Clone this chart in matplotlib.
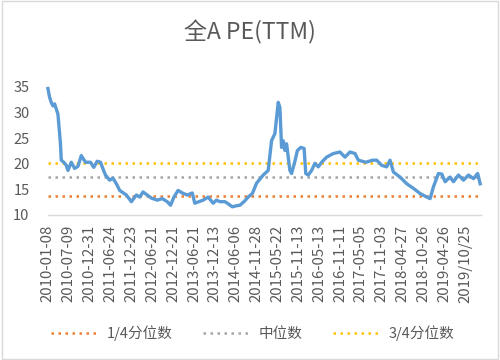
import matplotlib
matplotlib.use("Agg")
import matplotlib.pyplot as plt
from matplotlib.lines import Line2D
from matplotlib.patches import Rectangle

plt.rcParams['font.family'] = ['Noto Sans CJK SC', 'DejaVu Sans']

# Weekly data (point index counted from 2010-01-08)
weeks = [0, 2, 4, 6, 8, 12, 15, 16, 19, 22, 24, 28, 32, 36, 40, 45, 51, 55, 59, 63,
         66, 69, 74, 78, 83, 86, 94, 100, 106, 110, 114, 119, 124, 131, 137, 143, 147,
         151, 156, 161, 167, 173, 176, 181, 186, 192, 198, 202, 206, 212, 215, 221,
         226, 230, 235, 240, 245, 250, 254, 258, 264, 268, 272, 276, 278, 280, 282,
         284, 286, 290, 292, 296, 299, 303, 307, 309, 312, 316, 320, 324, 328, 334,
         342, 350, 356, 362, 368, 372, 381, 389, 394, 400, 406, 410, 414, 422, 430,
         438, 446, 454, 458, 462, 468, 472, 476, 482, 486, 492, 498, 504, 510, 515, 518]
pe = [34.7, 33.0, 32.0, 31.3, 31.7, 29.7, 24.0, 20.7, 20.3, 19.7, 18.7, 20.3, 19.1,
      19.5, 21.6, 20.3, 20.3, 19.3, 20.5, 20.3, 19.0, 17.8, 16.8, 17.2, 15.8, 14.8,
      13.9, 12.6, 13.9, 13.5, 14.5, 13.9, 13.3, 12.9, 13.2, 12.6, 11.9, 13.5, 14.8,
      14.3, 13.9, 14.3, 12.3, 12.6, 12.9, 13.5, 12.3, 12.9, 12.6, 12.6, 12.3, 11.6,
      11.8, 11.9, 12.6, 13.5, 14.2, 16.2, 17.0, 17.8, 18.7, 24.5, 25.9, 32.0, 31.0,
      23.2, 24.5, 22.6, 23.9, 18.7, 18.1, 20.5, 22.6, 23.2, 23.0, 18.1, 17.8, 18.7,
      20.1, 19.4, 20.3, 21.3, 22.0, 22.3, 21.3, 22.3, 22.0, 20.7, 20.3, 20.7, 20.7,
      19.7, 19.4, 20.7, 18.4, 17.4, 16.1, 15.2, 14.2, 13.5, 13.2, 15.5, 18.1, 18.0,
      16.5, 17.4, 16.5, 17.8, 16.8, 17.8, 17.1, 18.1, 16.1]

q1_value = 13.7
median_value = 17.4
q3_value = 20.1

tick_positions = [0, 25, 50, 75, 100, 125, 150, 175, 200, 225, 250, 275, 300, 325,
                  350, 375, 400, 425, 450, 475, 500]
tick_labels = ['2010-01-08', '2010-07-09', '2010-12-31', '2011-06-24', '2011-12-23',
               '2012-06-21', '2012-12-21', '2013-06-21', '2013-12-13', '2014-06-06',
               '2014-11-28', '2015-05-22', '2015-11-13', '2016-05-13', '2016-11-11',
               '2017-05-05', '2017-11-03', '2018-04-27', '2018-10-26', '2019-04-26',
               '2019/10/25']

title = '全A PE(TTM)'
legend_labels = ['1/4分位数', '中位数', '3/4分位数']

blue = '#5B9BD5'
orange = '#ED7D31'
grey = '#A5A5A5'
gold = '#FFC000'
text_c = '#595959'

fig = plt.figure(figsize=(5, 3.6), dpi=100)
fig.patches.append(Rectangle((0.004, 0.004), 0.992, 0.992, transform=fig.transFigure,
                             fill=False, edgecolor='#D9D9D9', linewidth=1))
ax = fig.add_axes([0.095, 0.4028, 0.867, 0.3556])

dot = (0, (1, 1.8))
for val, col in [(q1_value, orange), (median_value, grey), (q3_value, gold)]:
    ax.plot([weeks[0], weeks[-1]], [val, val], color=col, linewidth=1.8,
            linestyle=dot, zorder=2)

ax.plot(weeks, pe, color=blue, linewidth=2.4, solid_joinstyle='round', zorder=3,
        clip_on=False)

ax.set_xlim(-0.5, 519)
ax.set_ylim(10, 35)
ax.set_yticks([10, 15, 20, 25, 30, 35])
ax.set_xticks(tick_positions)
ax.set_xticklabels(tick_labels, rotation=90, fontsize=10.8, color=text_c)
for s in ['top', 'right', 'left']:
    ax.spines[s].set_visible(False)
ax.spines['bottom'].set_color('#D9D9D9')
ax.spines['bottom'].set_linewidth(1)
ax.tick_params(axis='x', length=0, pad=7)
ax.tick_params(axis='y', length=0, pad=13, labelsize=10.5, labelcolor=text_c)

fig.text(0.5, 0.91, title, ha='center', va='center', fontsize=16.5, color=text_c)

handles = [Line2D([0], [0], color=c, linewidth=1.8, linestyle=dot)
           for c in [orange, grey, gold]]
fig.legend(handles, legend_labels, loc='center', bbox_to_anchor=(0.505, 0.075), ncol=3,
           frameon=False, fontsize=10.5, handlelength=3.2, columnspacing=2.1,
           handletextpad=0.6, labelcolor=text_c)

fig.savefig('out.png', dpi=100)
